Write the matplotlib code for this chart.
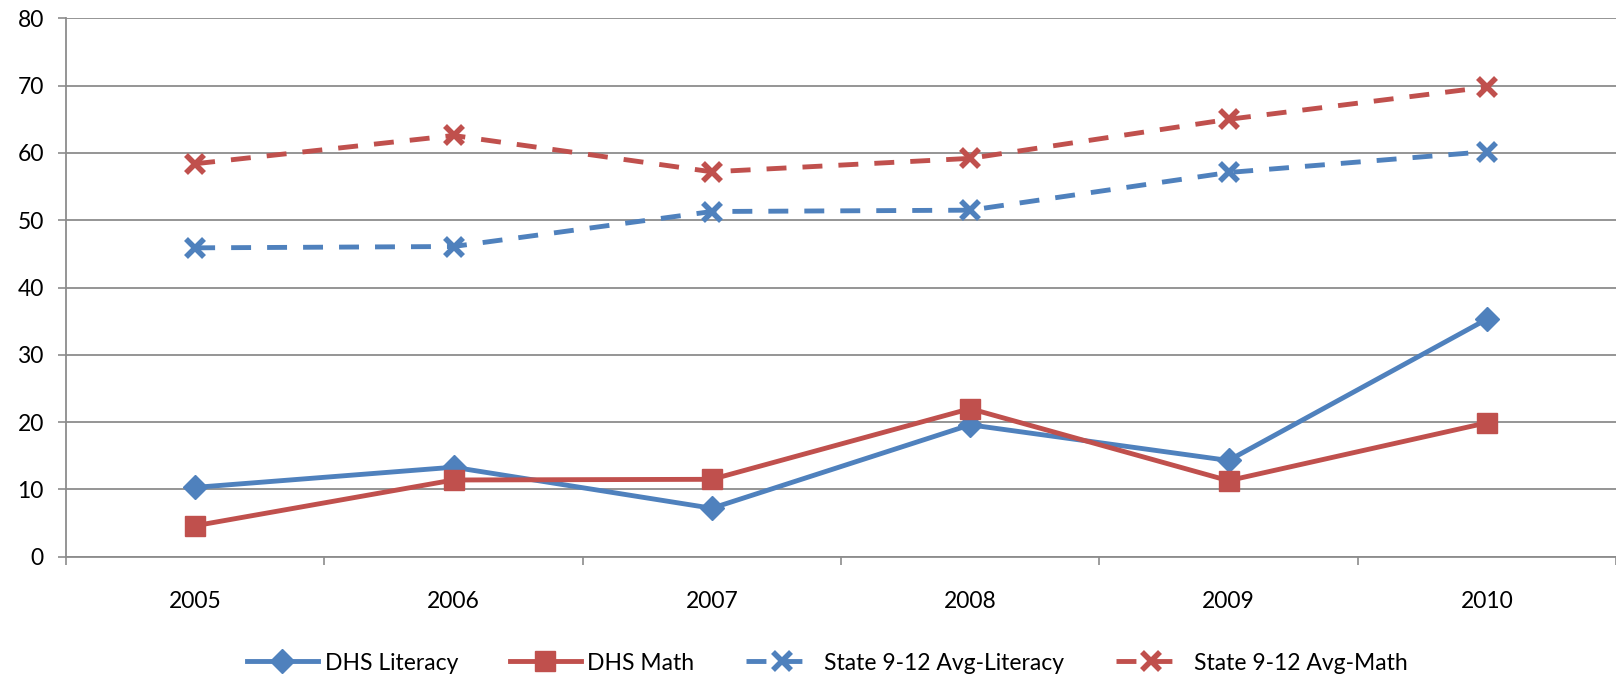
import matplotlib
matplotlib.use('Agg')
import matplotlib.pyplot as plt

# chart data
years = ['2005', '2006', '2007', '2008', '2009', '2010']
dhs_literacy = [10.3, 13.3, 7.2, 19.6, 14.3, 35.3]
dhs_math = [4.6, 11.4, 11.5, 22.0, 11.3, 19.9]
state_literacy = [45.9, 46.1, 51.3, 51.5, 57.1, 60.2]
state_math = [58.4, 62.6, 57.2, 59.2, 65.0, 69.8]
y_ticks = [0, 10, 20, 30, 40, 50, 60, 70, 80]

BLUE = '#4F81BD'
RED = '#C0504D'
GRID = '#8C8C8C'

plt.rcParams['font.family'] = ['Lato', 'DejaVu Sans']

fig = plt.figure(figsize=(16.16, 6.78), dpi=100)
ax = fig.add_axes([66 / 1616, 121.3 / 678, 1550 / 1616, 538.3 / 678])

x = list(range(len(years)))
dash = (0, (4.1, 3.3))

ax.plot(x, dhs_literacy, color=BLUE, lw=3.5, marker='D', markersize=12,
        label='DHS Literacy', solid_joinstyle='round', zorder=4)
ax.plot(x, dhs_math, color=RED, lw=3.5, marker='s', markersize=14,
        label='DHS Math', solid_joinstyle='round', zorder=4)
ax.plot(x, state_literacy, color=BLUE, lw=3.5, linestyle=dash, marker='x',
        markersize=13, markeredgewidth=4, label='State 9-12 Avg-Literacy', zorder=4)
ax.plot(x, state_math, color=RED, lw=3.5, linestyle=dash, marker='x',
        markersize=13, markeredgewidth=4, label='State 9-12 Avg-Math', zorder=4)

# axes look like the Excel default
ax.set_xlim(-0.5, len(years) - 0.5)
ax.set_ylim(0, 80)
ax.set_yticks(y_ticks)
ax.set_xticks(x)
ax.set_xticklabels(years)
ax.set_xticks([i - 0.5 for i in range(len(years) + 1)], minor=True)
ax.tick_params(axis='x', which='major', length=0, pad=25, labelsize=16.5)
ax.tick_params(axis='x', which='minor', length=6, width=1.2, color=GRID)
ax.tick_params(axis='y', length=6, width=1.2, color=GRID, pad=10, labelsize=16.5)
ax.grid(axis='y', color=GRID, lw=1.3, zorder=1)
ax.set_axisbelow(True)

for side in ['top', 'right']:
    ax.spines[side].set_visible(False)
for side in ['left', 'bottom']:
    ax.spines[side].set_color(GRID)
    ax.spines[side].set_linewidth(1.3)

# legend sits a little right of the figure centre, like in the original
fig.legend(loc='center', bbox_to_anchor=(827 / 1616, 1 - 663 / 678), ncol=4, frameon=False,
           fontsize=16.5, handlelength=3.1, handletextpad=0.3, columnspacing=2.25)

fig.savefig('out.png', dpi=100)
